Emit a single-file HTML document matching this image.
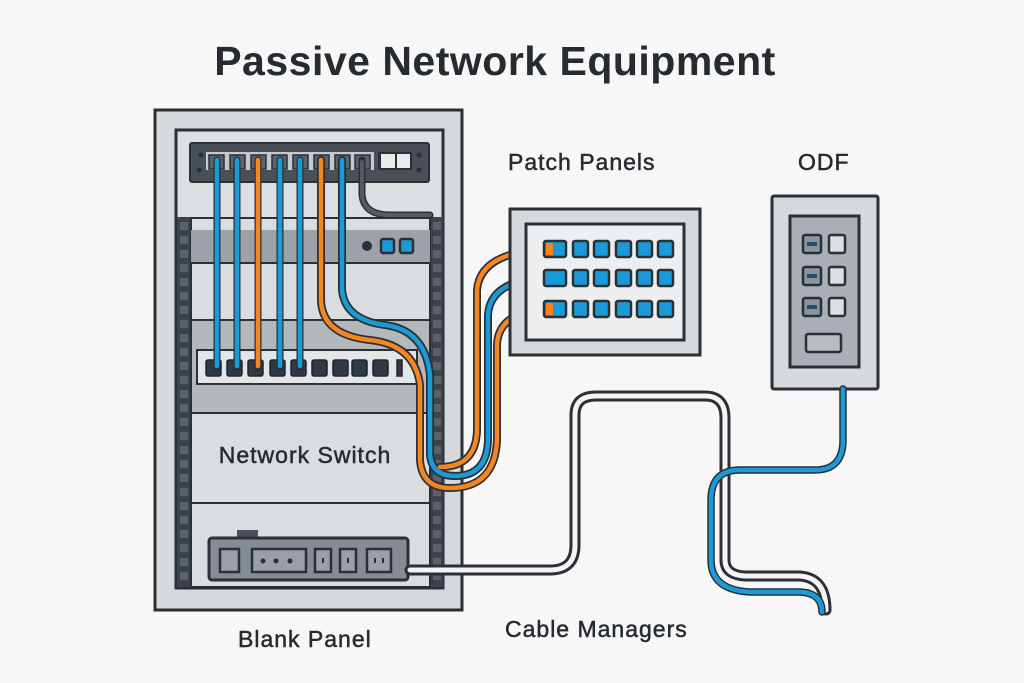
<!DOCTYPE html>
<html><head><style>
body{margin:0;background:#f7f7f7;}
svg{display:block}
text{font-family:"Liberation Sans",sans-serif;fill:#262b31}
.lb{stroke:#262b31;stroke-width:0.5;letter-spacing:1px}
</style></head><body>
<svg width="1024" height="683" viewBox="0 0 1024 683" xmlns="http://www.w3.org/2000/svg">
<rect width="1024" height="683" fill="#f7f7f7"/>
<text x="495" y="75" font-size="41" font-weight="bold" text-anchor="middle" letter-spacing="0.5">Passive Network Equipment</text>
<text class="lb" x="508" y="170" font-size="23">Patch Panels</text>
<text class="lb" x="798" y="170" font-size="23">ODF</text>
<text class="lb" x="238" y="647" font-size="23">Blank Panel</text>
<text class="lb" x="505" y="637" font-size="23">Cable Managers</text>

<!-- rack -->
<rect x="155" y="110" width="307" height="500" fill="#d5d9dc" stroke="#2b3036" stroke-width="3"/>
<rect x="176" y="130" width="267" height="458" fill="#dde0e3" stroke="#2b3036" stroke-width="3"/>
<rect x="177" y="217" width="14" height="370" fill="#3d434a"/>
<rect x="430" y="217" width="13" height="370" fill="#3d434a"/>
<g fill="#5a6169">
<rect x="180" y="222" width="8" height="8"/><rect x="180" y="236" width="8" height="8"/><rect x="180" y="250" width="8" height="8"/><rect x="180" y="264" width="8" height="8"/><rect x="180" y="278" width="8" height="8"/><rect x="180" y="292" width="8" height="8"/><rect x="180" y="306" width="8" height="8"/><rect x="180" y="320" width="8" height="8"/><rect x="180" y="334" width="8" height="8"/><rect x="180" y="348" width="8" height="8"/><rect x="180" y="362" width="8" height="8"/><rect x="180" y="376" width="8" height="8"/><rect x="180" y="390" width="8" height="8"/><rect x="180" y="404" width="8" height="8"/><rect x="180" y="418" width="8" height="8"/><rect x="180" y="432" width="8" height="8"/><rect x="180" y="446" width="8" height="8"/><rect x="180" y="460" width="8" height="8"/><rect x="180" y="474" width="8" height="8"/><rect x="180" y="488" width="8" height="8"/><rect x="180" y="502" width="8" height="8"/><rect x="180" y="516" width="8" height="8"/><rect x="180" y="530" width="8" height="8"/><rect x="180" y="544" width="8" height="8"/><rect x="180" y="558" width="8" height="8"/><rect x="180" y="572" width="8" height="8"/>
<rect x="433" y="222" width="8" height="8"/><rect x="433" y="236" width="8" height="8"/><rect x="433" y="250" width="8" height="8"/><rect x="433" y="264" width="8" height="8"/><rect x="433" y="278" width="8" height="8"/><rect x="433" y="292" width="8" height="8"/><rect x="433" y="306" width="8" height="8"/><rect x="433" y="320" width="8" height="8"/><rect x="433" y="334" width="8" height="8"/><rect x="433" y="348" width="8" height="8"/><rect x="433" y="362" width="8" height="8"/><rect x="433" y="376" width="8" height="8"/><rect x="433" y="390" width="8" height="8"/><rect x="433" y="404" width="8" height="8"/><rect x="433" y="418" width="8" height="8"/><rect x="433" y="432" width="8" height="8"/><rect x="433" y="446" width="8" height="8"/><rect x="433" y="460" width="8" height="8"/><rect x="433" y="474" width="8" height="8"/><rect x="433" y="488" width="8" height="8"/><rect x="433" y="502" width="8" height="8"/><rect x="433" y="516" width="8" height="8"/><rect x="433" y="530" width="8" height="8"/><rect x="433" y="544" width="8" height="8"/><rect x="433" y="558" width="8" height="8"/><rect x="433" y="572" width="8" height="8"/>
</g>
<!-- units -->
<rect x="191" y="218" width="239" height="45" fill="#dadde0" stroke="#2b3036" stroke-width="2"/>
<rect x="191" y="230" width="239" height="32" fill="#9ca2a8"/>
<circle cx="367" cy="246" r="5" fill="#2b3036"/>
<rect x="381" y="239" width="13" height="14" rx="2" fill="#1a9ad6" stroke="#2b3036" stroke-width="2.5"/>
<rect x="400" y="239" width="13" height="14" rx="2" fill="#1a9ad6" stroke="#2b3036" stroke-width="2.5"/>
<rect x="191" y="263" width="239" height="57" fill="#dadde0" stroke="#2b3036" stroke-width="2"/>
<rect x="191" y="320" width="239" height="93" fill="#b3b8bd" stroke="#2b3036" stroke-width="2"/>
<rect x="197" y="350" width="220" height="34" fill="#e3e6e8" stroke="#2b3036" stroke-width="2"/>
<g fill="#2f3a46" stroke="#1f252b" stroke-width="1.5">
<rect x="206" y="360" width="15" height="16" rx="2"/><rect x="227" y="360" width="15" height="16" rx="2"/><rect x="248" y="360" width="15" height="16" rx="2"/><rect x="270" y="360" width="15" height="16" rx="2"/><rect x="291" y="360" width="15" height="16" rx="2"/><rect x="312" y="360" width="15" height="16" rx="2"/><rect x="333" y="360" width="15" height="16" rx="2"/><rect x="352" y="360" width="15" height="16" rx="2"/><rect x="373" y="360" width="15" height="16" rx="2"/><rect x="397" y="360" width="5" height="16"/>
</g>
<rect x="191" y="413" width="239" height="90" fill="#dadde0" stroke="#2b3036" stroke-width="2"/>
<text class="lb" x="305" y="463" font-size="23" text-anchor="middle">Network Switch</text>
<rect x="191" y="503" width="239" height="84" fill="#dadde0" stroke="#2b3036" stroke-width="2"/>
<rect x="237" y="530" width="21" height="9" fill="#4a5058"/>
<rect x="209" y="538" width="199" height="42" rx="3" fill="#858c93" stroke="#2b3036" stroke-width="3"/>
<rect x="220" y="549" width="19" height="23" fill="#9aa0a6" stroke="#2b3036" stroke-width="2.5"/>
<rect x="252" y="549" width="54" height="23" fill="#9aa0a6" stroke="#2b3036" stroke-width="2.5"/>
<circle cx="263" cy="561" r="2.5" fill="#2b3036"/><circle cx="276" cy="561" r="2.5" fill="#2b3036"/><circle cx="290" cy="561" r="2.5" fill="#2b3036"/>
<rect x="315" y="549" width="16" height="23" fill="#9aa0a6" stroke="#2b3036" stroke-width="2.5"/>
<rect x="340" y="549" width="16" height="23" fill="#9aa0a6" stroke="#2b3036" stroke-width="2.5"/>
<rect x="367" y="549" width="24" height="23" fill="#9aa0a6" stroke="#2b3036" stroke-width="2.5"/>
<rect x="322" y="558" width="2" height="5" fill="#2b3036"/><rect x="347" y="558" width="2" height="5" fill="#2b3036"/><rect x="374" y="558" width="2" height="5" fill="#2b3036"/><rect x="382" y="558" width="2" height="5" fill="#2b3036"/>

<!-- top patch panel -->
<rect x="190" y="143" width="239" height="39" rx="2" fill="#4a5058" stroke="#2b3036" stroke-width="2"/>
<circle cx="201" cy="155" r="2.5" fill="#2b3036"/><circle cx="199" cy="170" r="2.5" fill="#2b3036"/>
<circle cx="419" cy="155" r="2.5" fill="#2b3036"/><circle cx="419" cy="170" r="2.5" fill="#2b3036"/>
<rect x="206" y="152" width="168" height="18" fill="#c5c9cd"/>
<g fill="#5a626b" stroke="#2b3036" stroke-width="1.5">
<rect x="209" y="155" width="15" height="14"/><rect x="230" y="155" width="15" height="14"/><rect x="251" y="155" width="15" height="14"/><rect x="272" y="155" width="15" height="14"/><rect x="293" y="155" width="15" height="14"/><rect x="314" y="155" width="15" height="14"/><rect x="335" y="155" width="15" height="14"/><rect x="355" y="155" width="15" height="14"/>
</g>
<rect x="378" y="152" width="34" height="18" fill="#2b3036"/>
<rect x="381" y="154" width="14" height="14" fill="#e9ebec"/><rect x="397" y="154" width="13" height="14" fill="#e9ebec"/>

<!-- cables in rack -->
<g fill="none" stroke-linecap="round">
<g stroke="#2b3036" stroke-width="7">
<path d="M217 160 V368"/><path d="M237 160 V368"/><path d="M258 160 V368"/><path d="M280 160 V368"/><path d="M300 160 V368"/>
<path d="M362 160 V195 Q364 215 390 215 H430"/>
</g>
<path d="M362 162 V195 Q364 215 390 215 H430" stroke="#555b61" stroke-width="4"/>
<g stroke="#1a9ad6" stroke-width="4.5"><path d="M217 160 V366"/><path d="M237 160 V366"/><path d="M280 160 V366"/><path d="M300 160 V366"/></g>
<path d="M258 160 V366" stroke="#f5851f" stroke-width="4.5"/>

<g stroke="#2b3036" stroke-width="8">
<path d="M321 160 V300 Q322 335 370 340 Q415 345 420 385 V460 Q422 488 450 488 Q495 488 497 440 V345 Q498 312 548 308"/>
<path d="M342 160 V290 Q345 320 385 325 Q425 330 430 375 V455 Q432 476 455 476 Q487 476 488 440 V315 Q490 280 548 277"/>
<path d="M440 467 Q476 467 477 430 V290 Q480 252 548 249"/>
</g>
<path d="M321 160 V300 Q322 335 370 340 Q415 345 420 385 V460 Q422 488 450 488 Q495 488 497 440 V345 Q498 312 548 308" stroke="#f5851f" stroke-width="4.5"/>
<path d="M342 160 V290 Q345 320 385 325 Q425 330 430 375 V455 Q432 476 455 476 Q487 476 488 440 V315 Q490 280 548 277" stroke="#1a9ad6" stroke-width="4.5"/>
<path d="M440 467 Q476 467 477 430 V290 Q480 252 548 249" stroke="#f5851f" stroke-width="4.5"/>
</g>

<!-- patch panel -->
<rect x="510" y="209" width="190" height="146" fill="#d5d9dc" stroke="#2b3036" stroke-width="3"/>
<rect x="526" y="224" width="158" height="116" fill="#eceeef" stroke="#2b3036" stroke-width="3"/>
<g fill="#1a9ad6" stroke="#2b3036" stroke-width="2.5">
<rect x="544" y="241" width="22" height="16" rx="2"/><rect x="573" y="241" width="15" height="16" rx="2"/><rect x="594" y="241" width="15" height="16" rx="2"/><rect x="616" y="241" width="15" height="16" rx="2"/><rect x="637" y="241" width="15" height="16" rx="2"/><rect x="658" y="241" width="15" height="16" rx="2"/>
<rect x="544" y="270" width="22" height="16" rx="2"/><rect x="573" y="270" width="15" height="16" rx="2"/><rect x="594" y="270" width="15" height="16" rx="2"/><rect x="616" y="270" width="15" height="16" rx="2"/><rect x="637" y="270" width="15" height="16" rx="2"/><rect x="658" y="270" width="15" height="16" rx="2"/>
<rect x="544" y="301" width="22" height="16" rx="2"/><rect x="573" y="301" width="15" height="16" rx="2"/><rect x="594" y="301" width="15" height="16" rx="2"/><rect x="616" y="301" width="15" height="16" rx="2"/><rect x="637" y="301" width="15" height="16" rx="2"/><rect x="658" y="301" width="15" height="16" rx="2"/>
</g>
<rect x="546" y="243" width="7" height="12" fill="#f5851f"/>
<rect x="546" y="272" width="7" height="12" fill="#1a9ad6"/>
<rect x="546" y="303" width="7" height="12" fill="#f5851f"/>

<!-- ODF -->
<rect x="772" y="196" width="106" height="193" rx="2" fill="#d5d9dc" stroke="#2b3036" stroke-width="3"/>
<rect x="790" y="216" width="69" height="151" fill="#a9afb5" stroke="#2b3036" stroke-width="3"/>
<g stroke="#2b3036" stroke-width="2.5">
<rect x="803" y="235" width="18" height="18" rx="2" fill="#8d949b"/><rect x="829" y="235" width="16" height="18" rx="2" fill="#dcdfe1"/>
<rect x="803" y="267" width="18" height="18" rx="2" fill="#8d949b"/><rect x="829" y="267" width="16" height="18" rx="2" fill="#dcdfe1"/>
<rect x="803" y="298" width="18" height="18" rx="2" fill="#8d949b"/><rect x="829" y="298" width="16" height="18" rx="2" fill="#dcdfe1"/>
<rect x="806" y="334" width="35" height="18" rx="2" fill="#b8bdc2"/>
</g>
<rect x="807" y="242" width="10" height="4" fill="#1f4d75"/><rect x="807" y="274" width="10" height="4" fill="#1f4d75"/><rect x="807" y="305" width="10" height="4" fill="#1f4d75"/>

<!-- cable managers double cable -->
<g fill="none" stroke-linecap="round">
<path d="M410 570 H550 Q575 570 575 545 V415 Q575 396 596 396 H705 Q725 396 725 418 V560 Q725 575 745 576 H800 Q826 578 826 610" stroke="#2b3036" stroke-width="11"/>
<path d="M410 570 H550 Q575 570 575 545 V415 Q575 396 596 396 H705 Q725 396 725 418 V560 Q725 575 745 576 H800 Q826 578 826 610" stroke="#f5f5f5" stroke-width="5"/>
<path d="M843 389 V440 Q843 470 815 470 H740 Q711 470 711 500 V560 Q711 590 750 592 H800 Q822 593 822 612" stroke="#2b3036" stroke-width="7.5"/>
<path d="M843 389 V440 Q843 470 815 470 H740 Q711 470 711 500 V560 Q711 590 750 592 H800 Q822 593 822 612" stroke="#1a9ad6" stroke-width="4.5"/>
</g>
</svg>
</body></html>
